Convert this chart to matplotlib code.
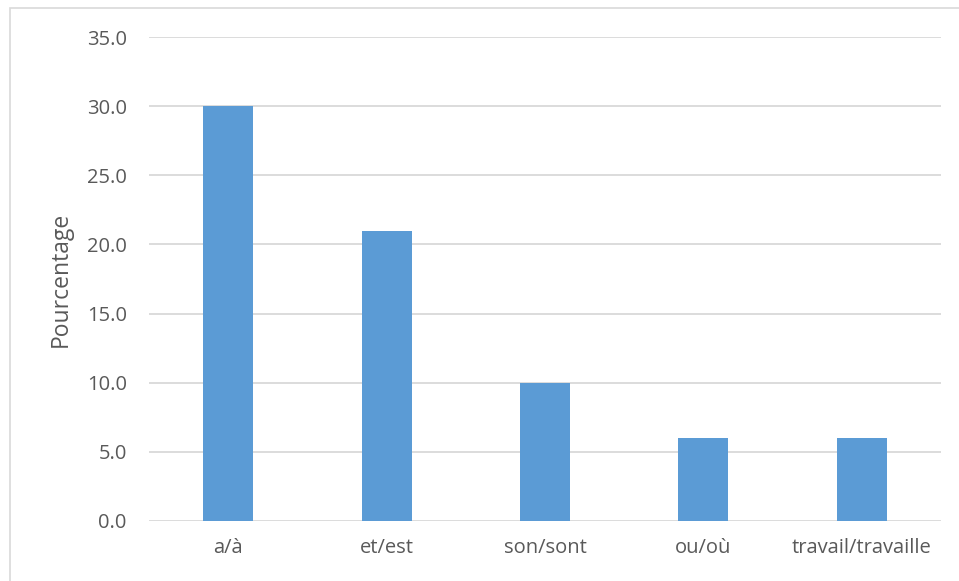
import numpy as np
import matplotlib.pyplot as plt
from matplotlib.patches import Rectangle
from matplotlib.ticker import FormatStrFormatter

categories = ["a/à", "et/est", "son/sont", "ou/où", "travail/travaille"]
values = [30, 21, 10, 6, 6]

plt.rcParams['font.family'] = ['Open Sans', 'DejaVu Sans']
text_color = '#595959'
grid_color = '#D9D9D9'

fig = plt.figure(figsize=(9.59, 5.81), dpi=100)
# outer chart frame
fig.patches.append(Rectangle((10 / 959, -0.2), 1.2, 1.2 - 8 / 581, transform=fig.transFigure,
                             fill=False, edgecolor=grid_color, linewidth=1.2))

ax = fig.add_axes([149 / 959, 1 - 521 / 581, 792 / 959, 484 / 581])
x = np.arange(len(categories))
ax.bar(x, values, width=0.316, color='#5B9BD5', zorder=3)

ax.set_xlim(-0.5, len(categories) - 0.5)
ax.set_ylim(0, 35)
ax.set_yticks(np.arange(0, 36, 5))
ax.yaxis.set_major_formatter(FormatStrFormatter('%.1f'))
ax.set_xticks(x)
ax.set_xticklabels(categories)
ax.grid(axis='y', color=grid_color, linewidth=1.3, zorder=0)
for s in ax.spines.values():
    s.set_visible(False)
ax.tick_params(axis='both', length=0, labelsize=14.5, colors=text_color)
ax.tick_params(axis='y', pad=16)
ax.tick_params(axis='x', pad=12)
ax.set_ylabel('Pourcentage', fontsize=16.5, color=text_color, labelpad=10)

fig.savefig('out.png', dpi=100)
